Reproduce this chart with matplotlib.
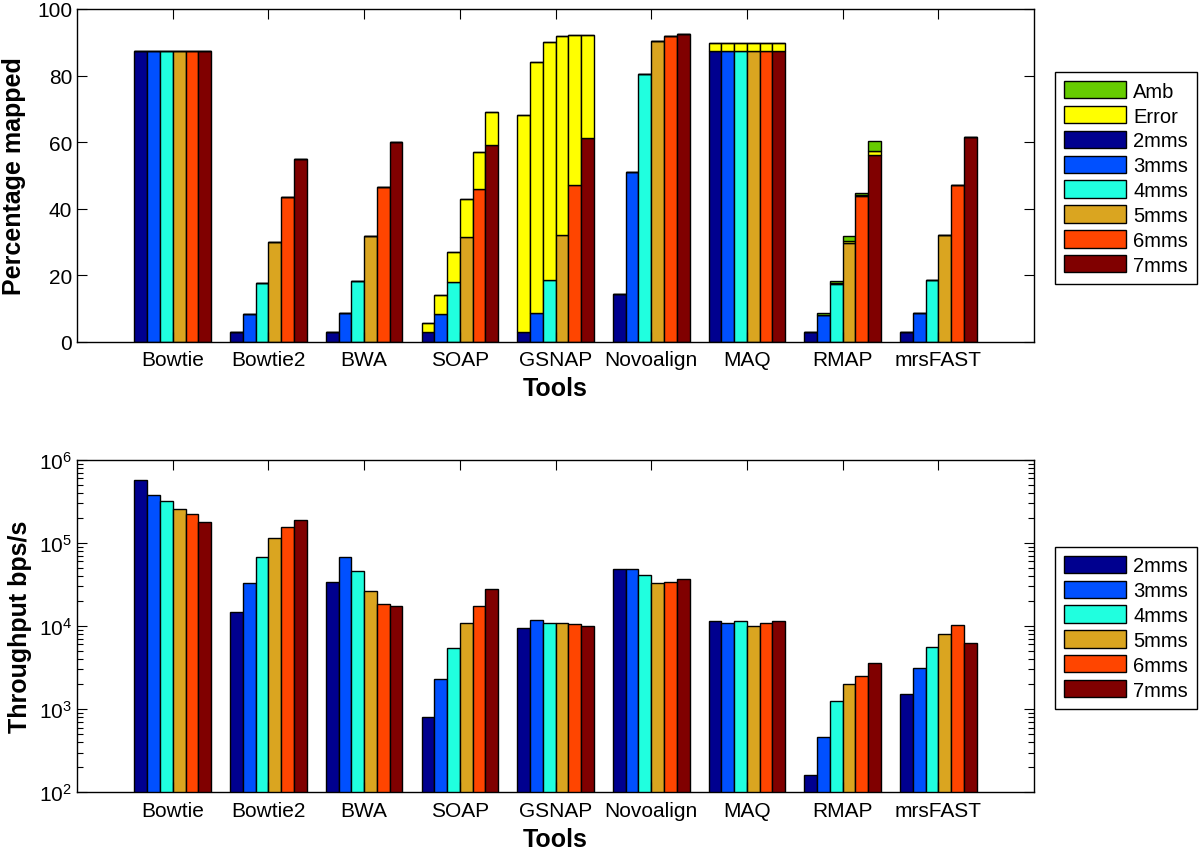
import numpy as np
import matplotlib
matplotlib.use("Agg")
import matplotlib.pyplot as plt
from matplotlib.patches import Patch
from matplotlib.ticker import LogLocator, NullFormatter

plt.rcParams['font.family'] = ['Liberation Sans', 'DejaVu Sans']
plt.rcParams['mathtext.fontset'] = 'custom'
plt.rcParams['mathtext.rm'] = 'Liberation Sans'
plt.rcParams['mathtext.it'] = 'Liberation Sans:italic'
plt.rcParams['mathtext.bf'] = 'Liberation Sans:bold'

# data
tools = ['Bowtie', 'Bowtie2', 'BWA', 'SOAP', 'GSNAP', 'Novoalign', 'MAQ', 'RMAP', 'mrsFAST']
series = ['2mms', '3mms', '4mms', '5mms', '6mms', '7mms']
colors = ['#00008F', '#0050FF', '#20FFDF', '#DAA520', '#FF4500', '#800000']
err_color = '#FFFF00'
amb_color = '#66CC00'

# percentage mapped correctly (per tool, 2..7 mms)
mapped = [
    [87.4, 87.5, 87.5, 87.5, 87.5, 87.5],   # Bowtie
    [3.1, 8.5, 17.6, 30.0, 43.4, 55.1],      # Bowtie2
    [3.1, 8.7, 18.3, 31.8, 46.4, 60.1],      # BWA
    [3.1, 8.5, 18.1, 31.4, 46.0, 59.2],      # SOAP
    [3.1, 8.7, 18.5, 32.0, 47.1, 61.3],      # GSNAP
    [14.3, 50.9, 80.5, 90.4, 92.0, 92.4],    # Novoalign
    [87.4, 87.5, 87.5, 87.5, 87.5, 87.5],    # MAQ
    [3.1, 8.0, 17.3, 29.8, 43.7, 56.3],      # RMAP
    [3.1, 8.7, 18.5, 32.0, 47.1, 61.5],      # mrsFAST
]
# erroneously mapped
error = [
    [0, 0, 0, 0, 0, 0],
    [0, 0, 0, 0, 0, 0],
    [0, 0, 0, 0, 0, 0],
    [2.5, 5.6, 8.9, 11.5, 11.2, 9.8],
    [65.2, 75.4, 71.7, 59.8, 45.2, 31.0],
    [0, 0, 0, 0, 0, 0],
    [2.5, 2.4, 2.4, 2.4, 2.4, 2.4],
    [0, 0.2, 0.3, 0.4, 0.4, 1.1],
    [0, 0, 0, 0, 0, 0],
]
# ambiguous
amb = [
    [0, 0, 0, 0, 0, 0],
    [0, 0, 0, 0, 0, 0],
    [0, 0, 0, 0, 0, 0],
    [0, 0, 0, 0, 0, 0],
    [0, 0, 0, 0, 0, 0],
    [0, 0, 0, 0, 0, 0],
    [0, 0, 0, 0, 0, 0],
    [0, 0.4, 0.7, 1.6, 0.7, 3.0],
    [0, 0, 0, 0, 0, 0],
]
# throughput bps/s
throughput = [
    [575000, 372000, 316000, 258000, 223000, 180000],
    [14600, 32700, 67900, 114000, 153000, 187000],
    [33400, 67900, 45600, 26000, 18200, 17200],
    [794, 2290, 5390, 10800, 17500, 27500],
    [9400, 11900, 10800, 10800, 10700, 9900],
    [47900, 48800, 40800, 33100, 33700, 36300],
    [11400, 11000, 11500, 10000, 10800, 11500],
    [163, 461, 1236, 2032, 2488, 3560],
    [1525, 3100, 5545, 8090, 10400, 6310],
]

mapped = np.array(mapped)
error = np.array(error)
amb = np.array(amb)
throughput = np.array(throughput)

x = np.arange(1, len(tools) + 1)
n = len(series)
w = 0.8 / n

fig = plt.figure(figsize=(12, 8.53), dpi=100)
ax1 = fig.add_axes([0.0642, 0.5979, 0.7975, 0.3904])
ax2 = fig.add_axes([0.0642, 0.0700, 0.7975, 0.3899])

for i in range(n):
    pos = x + (i - (n - 1) / 2) * w
    ax1.bar(pos, mapped[:, i], w, color=colors[i], edgecolor='black', linewidth=1)
    ax1.bar(pos, error[:, i], w, bottom=mapped[:, i], color=err_color,
            edgecolor='black', linewidth=1)
    ax1.bar(pos, amb[:, i], w, bottom=mapped[:, i] + error[:, i], color=amb_color,
            edgecolor='black', linewidth=1)
    ax2.bar(pos, throughput[:, i], w, color=colors[i], edgecolor='black', linewidth=1)

ax1.set_ylim(0, 100)
ax1.set_yticks([0, 20, 40, 60, 80, 100])
ax1.set_ylabel('Percentage mapped', fontsize=18, fontweight='bold', labelpad=8)

ax2.set_yscale('log')
ax2.set_ylim(1e2, 1e6)
ax2.yaxis.set_minor_locator(LogLocator(base=10, subs=np.arange(2, 10)))
ax2.yaxis.set_minor_formatter(NullFormatter())
ax2.set_ylabel('Throughput bps/s', fontsize=18, fontweight='bold', labelpad=5)

for ax in (ax1, ax2):
    ax.set_xlim(0, 10)
    ax.set_xticks(x)
    ax.set_xticklabels(tools)
    ax.set_xlabel('Tools', fontsize=18, fontweight='bold', labelpad=5)
    ax.tick_params(which='both', direction='in', top=True, right=True,
                   labelsize=15, width=0.8)
    ax.tick_params(axis='x', pad=6)
    ax.tick_params(which='major', length=7)
    ax.tick_params(which='minor', length=4)
    for s in ax.spines.values():
        s.set_linewidth(1)

leg_kw = dict(fontsize=14.5, handlelength=3.1, handleheight=0.95, labelspacing=0.26,
              handletextpad=0.35, borderpad=0.45, fancybox=False, edgecolor='black',
              framealpha=1, borderaxespad=0, loc='upper left')

h1 = [Patch(facecolor=amb_color, edgecolor='black'),
      Patch(facecolor=err_color, edgecolor='black')]
h1 += [Patch(facecolor=c, edgecolor='black') for c in colors]
l1 = ['Amb', 'Error'] + series
leg1 = fig.legend(h1, l1, bbox_to_anchor=(0.879, 0.9144), **leg_kw)
leg1.get_frame().set_linewidth(1)

h2 = [Patch(facecolor=c, edgecolor='black') for c in colors]
leg2 = fig.legend(h2, series, bbox_to_anchor=(0.879, 0.358), **leg_kw)
leg2.get_frame().set_linewidth(1)

fig.savefig('out.png', dpi=100)
